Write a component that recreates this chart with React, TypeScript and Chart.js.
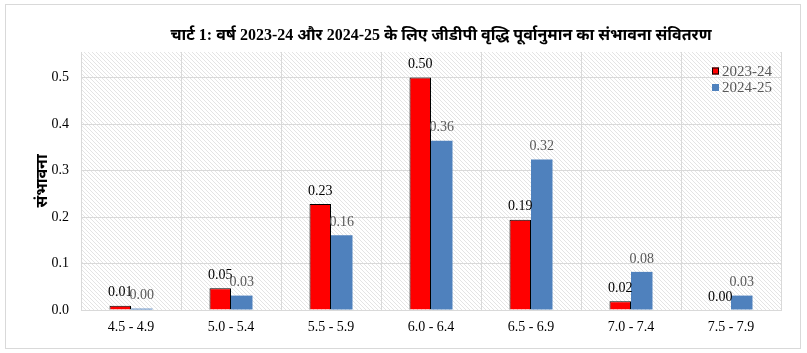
import React, { useEffect, useRef } from 'react';
import { Chart, registerables } from 'chart.js';

Chart.register(...registerables);

const categories = ['4.5 - 4.9', '5.0 - 5.4', '5.5 - 5.9', '6.0 - 6.4', '6.5 - 6.9', '7.0 - 7.4', '7.5 - 7.9'];
const series2023 = [0.009, 0.047, 0.228, 0.5, 0.194, 0.019, 0.0];
const series2024 = [0.003, 0.031, 0.161, 0.364, 0.324, 0.082, 0.031];
const seriesLabels = ['2023-24', '2024-25'];
const yTickValues = [0, 0.1, 0.2, 0.3, 0.4, 0.5];
const chartTitle = 'चार्ट 1: वर्ष 2023-24 और 2024-25 के लिए जीडीपी वृद्धि पूर्वानुमान का संभावना संवितरण';
const yAxisTitle = 'संभावना';

const FONT = '"Liberation Serif", "Noto Sans", serif';

function makeHatch(): CanvasPattern | string {
  const c = document.createElement('canvas');
  c.width = 4;
  c.height = 4;
  const g = c.getContext('2d');
  if (!g) return '#f4f4f4';
  g.fillStyle = '#ffffff';
  g.fillRect(0, 0, 4, 4);
  g.fillStyle = '#e4e4e4';
  for (let i = 0; i < 4; i++) g.fillRect(i, i, 1, 1);
  const p = g.createPattern(c, 'repeat');
  return p || '#f4f4f4';
}

export default function App() {
  const ref = useRef<HTMLCanvasElement | null>(null);

  useEffect(() => {
    const canvas = ref.current;
    if (!canvas) return;
    const hatch = makeHatch();

    const backgroundPlugin = {
      id: 'bgPlugin',
      beforeDraw(chart: any) {
        const { ctx, chartArea, width, height } = chart;
        ctx.save();
        ctx.fillStyle = '#ffffff';
        ctx.fillRect(0, 0, width, height);
        ctx.strokeStyle = '#d9d9d9';
        ctx.lineWidth = 1;
        ctx.strokeRect(5.5, 4.5, width - 12, height - 9);
        ctx.fillStyle = hatch as any;
        ctx.fillRect(chartArea.left, chartArea.top, chartArea.right - chartArea.left, chartArea.bottom - chartArea.top);
        ctx.restore();
      },
    };

    const overlayPlugin = {
      id: 'overlayPlugin',
      afterDraw(chart: any) {
        const { ctx, chartArea } = chart;
        ctx.save();
        // title
        ctx.font = `bold 16px ${FONT}`;
        ctx.fillStyle = '#000000';
        ctx.textAlign = 'center';
        ctx.textBaseline = 'middle';
        ctx.fillText(chartTitle, (chartArea.left + chartArea.right) / 2 + 10, 36);

        // data labels
        ctx.font = `14px ${FONT}`;
        ctx.textBaseline = 'middle';
        chart.data.datasets.forEach((ds: any, di: number) => {
          const meta = chart.getDatasetMeta(di);
          ctx.fillStyle = di === 0 ? '#000000' : '#595959';
          meta.data.forEach((bar: any, i: number) => {
            const v = ds.data[i];
            ctx.fillText(Number(v).toFixed(2), bar.x, bar.y - 13);
          });
        });

        // legend
        ctx.font = `15px ${FONT}`;
        ctx.textAlign = 'left';
        chart.data.datasets.forEach((ds: any, di: number) => {
          const cy = chartArea.top + 19 + di * 16.5;
          const x0 = chartArea.right - 69;
          ctx.fillStyle = ds.backgroundColor;
          ctx.fillRect(x0, cy - 3.5, 7, 7);
          if (ds.borderWidth) {
            ctx.strokeStyle = '#000';
            ctx.lineWidth = 1;
            ctx.strokeRect(x0 + 0.5, cy - 3, 6, 6);
          }
          ctx.fillStyle = '#595959';
          ctx.fillText(ds.label, x0 + 10, cy + 1);
        });
        ctx.restore();
      },
    };

    const chart = new Chart(canvas, {
      type: 'bar',
      data: {
        labels: categories,
        datasets: [
          {
            label: seriesLabels[0],
            data: series2023,
            backgroundColor: '#ff0000',
            borderColor: '#000000',
            borderWidth: 1,
            barPercentage: 1,
            categoryPercentage: 0.43,
          },
          {
            label: seriesLabels[1],
            data: series2024,
            backgroundColor: '#4f81bd',
            borderWidth: 0,
            barPercentage: 1,
            categoryPercentage: 0.43,
          },
        ],
      },
      options: {
        responsive: false,
        animation: false,
        layout: { padding: { left: 0, top: 52, right: 26, bottom: 0 } },
        plugins: {
          legend: { display: false },
          title: { display: false },
          tooltip: { enabled: false },
        },
        scales: {
          x: {
            grid: { color: '#d9d9d9', offset: true, drawTicks: false },
            border: { color: '#d9d9d9' },
            ticks: { color: '#000000', font: { family: FONT, size: 14 }, padding: 9 },
            afterFit: (s: any) => {
              s.height = 43;
            },
          },
          y: {
            min: 0,
            max: 0.555,
            grid: { color: '#d9d9d9', drawTicks: false },
            border: { color: '#d9d9d9' },
            afterBuildTicks: (s: any) => {
              s.ticks = yTickValues.map((v) => ({ value: v }));
            },
            ticks: {
              color: '#000000',
              font: { family: FONT, size: 14 },
              padding: 12,
              callback: (v: any) => Number(v).toFixed(1),
            },
            title: {
              display: true,
              text: yAxisTitle,
              color: '#000000',
              font: { family: FONT, size: 16, weight: 'bold' },
              padding: { top: 33, bottom: 0 },
            },
            afterFit: (s: any) => {
              s.width = 81;
            },
          },
        },
      },
      plugins: [backgroundPlugin, overlayPlugin],
    } as any);

    return () => chart.destroy();
  }, []);

  return (
    <div style={{ position: 'fixed', left: 0, top: 0, width: 807, height: 353, background: '#fff' }}>
      <canvas ref={ref} width={807} height={353} style={{ display: 'block', width: 807, height: 353 }} />
    </div>
  );
}
